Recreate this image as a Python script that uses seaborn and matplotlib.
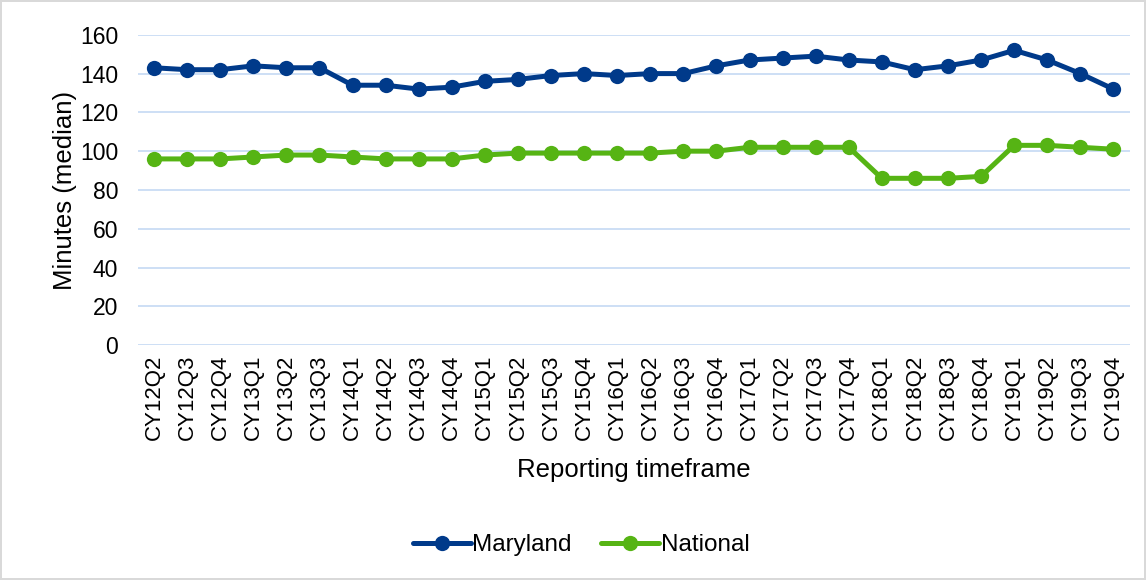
import pandas as pd
import seaborn as sns
import matplotlib.pyplot as plt

# Quarterly reporting periods
quarters = ['CY12Q2', 'CY12Q3', 'CY12Q4',
            'CY13Q1', 'CY13Q2', 'CY13Q3',
            'CY14Q1', 'CY14Q2', 'CY14Q3', 'CY14Q4',
            'CY15Q1', 'CY15Q2', 'CY15Q3', 'CY15Q4',
            'CY16Q1', 'CY16Q2', 'CY16Q3', 'CY16Q4',
            'CY17Q1', 'CY17Q2', 'CY17Q3', 'CY17Q4',
            'CY18Q1', 'CY18Q2', 'CY18Q3', 'CY18Q4',
            'CY19Q1', 'CY19Q2', 'CY19Q3', 'CY19Q4']

maryland = [143, 142, 142, 144, 143, 143, 134, 134, 132, 133,
            136, 137, 139, 140, 139, 140, 140, 144, 147, 148,
            149, 147, 146, 142, 144, 147, 152, 147, 140, 132]

national = [96, 96, 96, 97, 98, 98, 97, 96, 96, 96,
            98, 99, 99, 99, 99, 99, 100, 100, 102, 102,
            102, 102, 86, 86, 86, 87, 103, 103, 102, 101]

series_names = ['Maryland', 'National']
colors = ['#003A8A', '#56B414']

df = pd.DataFrame({
    'quarter': quarters * 2,
    'minutes': maryland + national,
    'series': ['Maryland'] * len(quarters) + ['National'] * len(quarters),
})

sns.set_style('white', rc={'text.color': 'black', 'axes.labelcolor': 'black',
                           'xtick.color': 'black', 'ytick.color': 'black'})
plt.rcParams['font.family'] = ['Liberation Sans', 'DejaVu Sans']

fig = plt.figure(figsize=(11.46, 5.8), dpi=100)
fig.patch.set_edgecolor('#D9D9D9')
fig.patch.set_linewidth(1.5)
ax = fig.add_axes([0.12, 0.405, 0.866, 0.535])

sns.lineplot(data=df, x='quarter', y='minutes', hue='series',
             hue_order=series_names, palette=colors, sort=False,
             marker='o', markersize=11, markeredgewidth=0,
             linewidth=3.6, ax=ax, legend=True)

ax.set_ylim(0, 160)
ax.set_yticks(range(0, 161, 20))
ax.set_xlim(-0.5, len(quarters) - 0.5)
ax.grid(axis='y', color='#C9DCF5', linewidth=1.3)
ax.set_axisbelow(True)
for s in ax.spines.values():
    s.set_visible(False)
ax.tick_params(axis='x', labelrotation=90, labelsize=16, length=0, pad=7)
ax.tick_params(axis='y', labelsize=16.5, length=0, pad=14)
ax.set_xlabel('Reporting timeframe', fontsize=18.5, labelpad=13)
ax.set_ylabel('Minutes (median)', fontsize=18.5, labelpad=2)

handles, labels = ax.get_legend_handles_labels()
ax.get_legend().remove()
fig.legend(handles, labels, loc='center', bbox_to_anchor=(0.507, 0.06),
           ncol=2, frameon=False, fontsize=17.5, handlelength=2.4,
           handletextpad=0.05, columnspacing=1.2)

fig.savefig('out.png', dpi=100, edgecolor=fig.get_edgecolor())
plt.close()
